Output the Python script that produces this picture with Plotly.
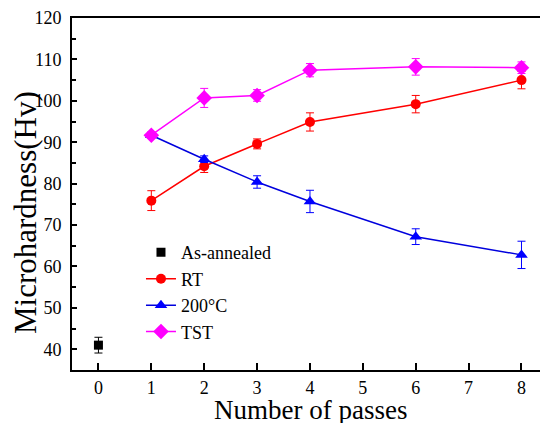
import plotly.graph_objects as go

passes = [1, 2, 3, 4, 6, 8]
rt_vals = [75.9, 84.2, 89.6, 94.9, 99.2, 105.0]
rt_err = [2.4, 1.5, 1.2, 2.2, 2.1, 2.1]
c200_vals = [91.7, 85.9, 80.4, 75.7, 67.2, 62.8]
c200_err = [0.6, 0.8, 1.5, 2.7, 1.9, 3.3]
tst_vals = [91.7, 100.7, 101.3, 107.4, 108.2, 108.0]
tst_err = [0.8, 2.3, 1.4, 1.6, 2.0, 1.4]
ann_x = [0]
ann_vals = [41.0]
ann_err = [1.9]

FONT = "Liberation Serif"

fig = go.Figure()
fig.add_trace(go.Scatter(
    x=ann_x, y=ann_vals, mode="markers", name="As-annealed",
    marker=dict(symbol="square", size=9, color="black"),
    error_y=dict(type="data", array=ann_err, color="black", thickness=1, width=4),
))
fig.add_trace(go.Scatter(
    x=passes, y=rt_vals, mode="lines+markers", name="RT",
    line=dict(color="#ff0000", width=1.5),
    marker=dict(symbol="circle", size=10, color="#ff0000"),
    error_y=dict(type="data", array=rt_err, color="#ff0000", thickness=1, width=4),
))
fig.add_trace(go.Scatter(
    x=passes, y=c200_vals, mode="lines+markers", name="200°C",
    line=dict(color="#0000dd", width=1.5),
    marker=dict(symbol="triangle-up", size=11, color="#0000ff"),
    error_y=dict(type="data", array=c200_err, color="#0000ff", thickness=1, width=4),
))
fig.add_trace(go.Scatter(
    x=passes, y=tst_vals, mode="lines+markers", name="TST",
    line=dict(color="#ff00ff", width=1.5),
    marker=dict(symbol="diamond", size=12, color="#ff00ff"),
    error_y=dict(type="data", array=tst_err, color="#ff00ff", thickness=1, width=4),
))

fig.update_layout(
    width=540, height=423,
    margin=dict(l=72, r=0, t=18, b=53),
    paper_bgcolor="white", plot_bgcolor="white",
    font=dict(family=FONT, color="black"),
    showlegend=True,
    legend=dict(
        x=0.1474, y=0.386, xanchor="left", yanchor="top",
        bgcolor="rgba(0,0,0,0)", borderwidth=0,
        font=dict(family=FONT, size=18, color="black"),
        tracegroupgap=0, itemwidth=30,
    ),
    annotations=[
        dict(text="Number of passes", xref="paper", yref="paper", x=(310 - 72) / 468,
             y=-40 / 352, xanchor="center", yanchor="middle", showarrow=False,
             font=dict(family=FONT, size=27, color="black")),
        dict(text="Microhardness(Hv)", xref="paper", yref="paper", x=-47 / 468,
             y=(370 - 213) / 352, xanchor="center", yanchor="middle", showarrow=False, textangle=-90,
             font=dict(family=FONT, size=31, color="black")),
    ],
)
fig.update_xaxes(
    range=[-0.5, 8.35], tickmode="array", tickvals=[0, 1, 2, 3, 4, 5, 6, 7, 8],
    ticks="inside", ticklen=7, tickwidth=1.5, tickcolor="black",
    showline=True, linecolor="black", linewidth=2, mirror=True,
    showgrid=False, zeroline=False,
    tickfont=dict(family=FONT, size=18, color="black"),
)
fig.update_yaxes(
    range=[35, 120], tickmode="array", tickvals=[40, 50, 60, 70, 80, 90, 100, 110, 120],
    ticks="inside", ticklen=5, tickwidth=1.5, tickcolor="black",
    minor=dict(ticks="inside", ticklen=4, tickwidth=1.5, tickcolor="black", dtick=5, tick0=0),
    showline=True, linecolor="black", linewidth=2, mirror=False,
    showgrid=False, zeroline=False, ticklabelstandoff=5,
    tickfont=dict(family=FONT, size=18, color="black"),
)

fig.write_html("out.html", config={"displayModeBar": False},
               post_script="document.body.style.margin='0';document.body.style.overflow='hidden';")
